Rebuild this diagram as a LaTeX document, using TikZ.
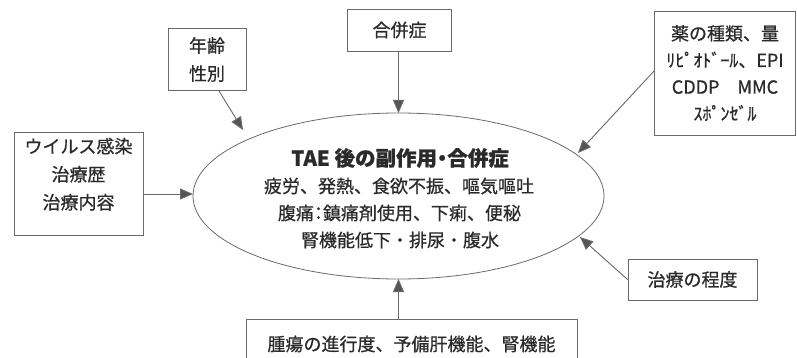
\documentclass[tikz,border=0pt]{standalone}
\usepackage{fontspec}
\setmainfont{Noto Sans CJK JP}[FakeBold=0.6]
\newfontfamily\pfont{Noto Sans CJK JP}[RawFeature=+palt,FakeBold=0.6]
\usetikzlibrary{arrows.meta,shapes.geometric}
\definecolor{linegray}{HTML}{6A6A6A}
\definecolor{headgray}{HTML}{555555}
\definecolor{textgray}{HTML}{2A2A2A}
\begin{document}
\begin{tikzpicture}[x=1pt,y=-1pt,
  box/.style={draw=linegray, line width=0.9pt, fill=white, align=center, inner sep=0pt,
    font=\fontsize{18}{28}\selectfont, text=textgray},
  etext/.style={font=\fontsize{18}{27}\selectfont, text=textgray, inner sep=0pt},
  arr/.style={draw=linegray, line width=0.9pt, -{Triangle[length=13pt,width=11pt,fill=headgray]}}]
\useasboundingbox (0,0) rectangle (797,358);
\clip (0,0) rectangle (797,358);
\fill[white] (0,0) rectangle (797,358);
% ellipse
\node[draw=linegray, line width=0.8pt, ellipse, minimum width=411pt, minimum height=166pt, inner sep=0pt] (ell) at (398.5,196) {};
\node[etext, font=\fontsize{20.5}{27}\selectfont\bfseries] (t1) at (400,158) {TAE 後の副作用{\pfont ・}合併症};
\node[etext] (t2) at (399,186) {疲労、発熱、食欲不振、嘔気嘔吐};
\node[etext] (t3) at (399.5,213) {腹痛{\pfont ：}鎮痛剤使用、下痢、便秘};
\node[etext] (t4) at (400,240) {腎機能低下・排尿・腹水};
% boxes
\node[box, minimum width=78pt, minimum height=62pt] (age) at (207,59.5) {年齢\\性別};
\node[box, minimum width=104pt, minimum height=42pt] (comp) at (399.5,30) {合併症};
\node[box, minimum width=141pt, minimum height=124pt, font=\fontsize{18}{26.7}\selectfont] (drug) at (725,73) {薬の種類、量\\ﾘﾋﾟｵﾄﾞｰﾙ、EPI\\CDDP\quad MMC\\ｽﾎﾟﾝｾﾞﾙ};
\node[box, minimum width=129pt, minimum height=103pt] (virus) at (78.5,183.5) {ウイルス感染\\治療歴\\治療内容\\[-8pt]};
\node[box, minimum width=129pt, minimum height=41pt] (deg) at (692.5,279.5) {治療の程度};
\node[box, minimum width=331pt, minimum height=50pt] (tumor) at (411.5,344) {腫瘍の進行度、予備肝機能、腎機能};
% arrow tips
\coordinate (tipage) at (243,130);
\coordinate (tipcomp) at (398.5,113);
\coordinate (tipdrug) at (578,153);
\coordinate (tipvirus) at (193,194);
\coordinate (tipdeg) at (580,237);
\coordinate (tiptumor) at (398.5,279);
\draw[arr] ([xshift=12pt]age.south) -- (tipage);
\draw[arr] (comp.south -| tipcomp) -- (tipcomp);
\draw[arr] ([yshift=2pt]drug.west) -- (tipdrug);
\draw[arr] ([yshift=-10.5pt]virus.east) -- (tipvirus);
\draw[arr] (deg.west) -- (tipdeg);
\draw[arr] (tumor.north -| tiptumor) -- (tiptumor);
\end{tikzpicture}
\end{document}
